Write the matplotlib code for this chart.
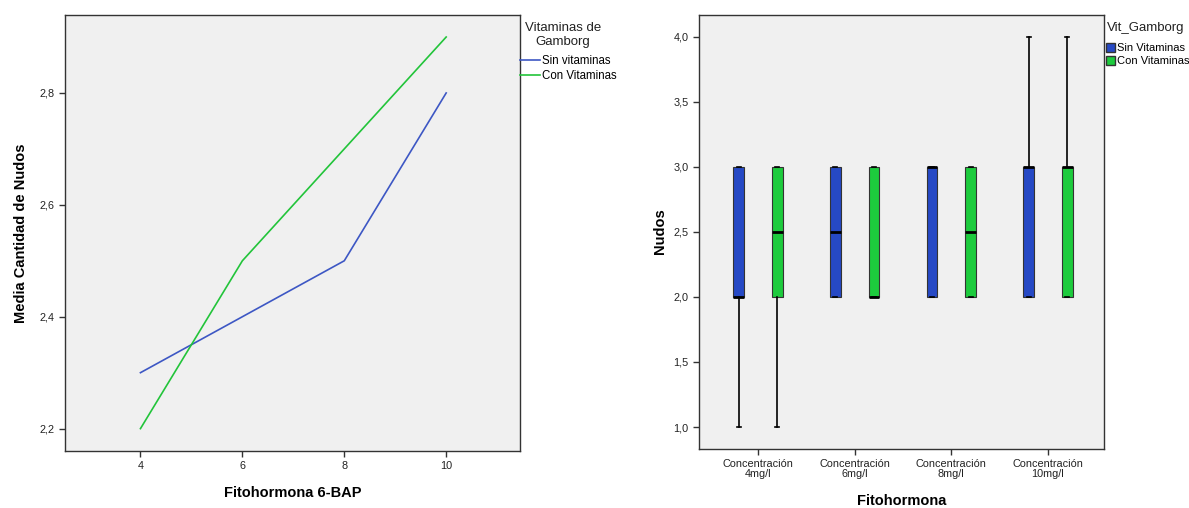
"""Nudos: medias por concentración de 6-BAP y diagrama de cajas por vitaminas."""

import matplotlib

matplotlib.use("Agg")
import matplotlib.pyplot as plt
from matplotlib.patches import Patch

plt.rcParams["font.family"] = ["Liberation Sans", "DejaVu Sans"]

# left panel: line chart of means
bap_levels = [4, 6, 8, 10]
mean_sin = [2.3, 2.4, 2.5, 2.8]
mean_con = [2.2, 2.5, 2.7, 2.9]
line_labels = ["Sin vitaminas", "Con Vitaminas"]

# right panel: boxplot stats per concentration (q1, median, q3, whisker low, whisker high)
conc_labels = ["Concentración\n4mg/l", "Concentración\n6mg/l",
               "Concentración\n8mg/l", "Concentración\n10mg/l"]
box_groups = ["Sin Vitaminas", "Con Vitaminas"]
sin_q1 = [2.0, 2.0, 2.0, 2.0]
sin_med = [2.0, 2.5, 3.0, 3.0]
sin_q3 = [3.0, 3.0, 3.0, 3.0]
sin_lo = [1.0, 2.0, 2.0, 2.0]
sin_hi = [3.0, 3.0, 3.0, 4.0]
con_q1 = [2.0, 2.0, 2.0, 2.0]
con_med = [2.5, 2.0, 2.5, 3.0]
con_q3 = [3.0, 3.0, 3.0, 3.0]
con_lo = [1.0, 2.0, 2.0, 2.0]
con_hi = [3.0, 3.0, 3.0, 4.0]

BG = "#f0f0f0"
BLUE_LINE = "#3d57c4"
GREEN_LINE = "#22c43a"
BLUE_BOX = "#2649c5"
GREEN_BOX = "#1dcb3d"
TXT = "#222222"

fig = plt.figure(figsize=(11.89, 5.08), dpi=100)

# ---- left: means ----
ax1 = fig.add_axes([0.0547, 0.1122, 0.3827, 0.859])
ax1.set_facecolor(BG)
ax1.plot(bap_levels, mean_sin, color=BLUE_LINE, lw=1.2, label=line_labels[0])
ax1.plot(bap_levels, mean_con, color=GREEN_LINE, lw=1.2, label=line_labels[1])
ax1.set_xlim(2.52, 11.45)
ax1.set_ylim(2.160, 2.940)
ax1.set_xticks(bap_levels)
ax1.set_yticks([2.2, 2.4, 2.6, 2.8])
ax1.set_yticklabels(["2,2", "2,4", "2,6", "2,8"])
ax1.set_xlabel("Fitohormona 6-BAP", fontsize=10.5, fontweight="bold", labelpad=10.5)
ax1.set_ylabel("Media Cantidad de Nudos", fontsize=10.5, fontweight="bold", labelpad=8)
fig.text(563 / 1189, 1 - 35 / 508, "Vitaminas de\nGamborg", ha="center", va="center",
         fontsize=9.5, color=TXT, linespacing=1.3)
ax1.legend(loc="upper left", bbox_to_anchor=(520 / 1189, 1 - 55 / 508),
           bbox_transform=fig.transFigure, frameon=False, fontsize=8.3,
           handlelength=1.75, handletextpad=0.2, borderaxespad=0.0,
           labelspacing=0.25, borderpad=0.0)

# ---- right: boxplots ----
ax2 = fig.add_axes([0.5879, 0.1171, 0.3406, 0.854])
ax2.set_facecolor(BG)
offset = 0.2
width = 0.11
series = [
    (sin_q1, sin_med, sin_q3, sin_lo, sin_hi, BLUE_BOX, -offset),
    (con_q1, con_med, con_q3, con_lo, con_hi, GREEN_BOX, offset),
]
for q1, med, q3, lo, hi, color, dx in series:
    stats = [
        {"q1": a, "med": m, "q3": b, "whislo": w0, "whishi": w1, "fliers": []}
        for a, m, b, w0, w1 in zip(q1, med, q3, lo, hi)
    ]
    ax2.bxp(stats, positions=[i + dx for i in range(len(stats))], widths=width,
            patch_artist=True, showfliers=False, capwidths=0.04, manage_ticks=False,
            boxprops=dict(facecolor=color, edgecolor="#333333", linewidth=0.8),
            medianprops=dict(color="black", linewidth=2.0),
            whiskerprops=dict(color="black", linewidth=1.2),
            capprops=dict(color="black", linewidth=1.2))
ax2.set_xlim(-0.61, 3.58)
ax2.set_ylim(0.835, 4.169)
ax2.set_xticks(range(len(conc_labels)))
ax2.set_xticklabels(conc_labels, fontsize=7.8, linespacing=1.0)
ax2.set_yticks([1.0, 1.5, 2.0, 2.5, 3.0, 3.5, 4.0])
ax2.set_yticklabels(["1,0", "1,5", "2,0", "2,5", "3,0", "3,5", "4,0"])
ax2.set_xlabel("Fitohormona", fontsize=10.5, fontweight="bold", labelpad=11)
ax2.set_ylabel("Nudos", fontsize=10.5, fontweight="bold", labelpad=4.5)
fig.text(1107 / 1189, 1 - 28 / 508, "Vit_Gamborg", ha="left", va="center",
         fontsize=9.5, color=TXT)
handles = [Patch(facecolor=BLUE_BOX, edgecolor="#333333", label=box_groups[0]),
           Patch(facecolor=GREEN_BOX, edgecolor="#333333", label=box_groups[1])]
ax2.legend(handles=handles, loc="upper left", bbox_to_anchor=(1106 / 1189, 1 - 43 / 508),
           bbox_transform=fig.transFigure, frameon=False, fontsize=8,
           handlelength=0.8, handleheight=0.9, handletextpad=0.2, borderaxespad=0.0,
           labelspacing=0.2, borderpad=0.0)

for ax in (ax1, ax2):
    for sp in ax.spines.values():
        sp.set_color("#333333")
        sp.set_linewidth(1.0)
    ax.tick_params(labelsize=7.8, length=4, width=1, color="#333333", labelcolor=TXT)

fig.savefig("out.png", dpi=100)
